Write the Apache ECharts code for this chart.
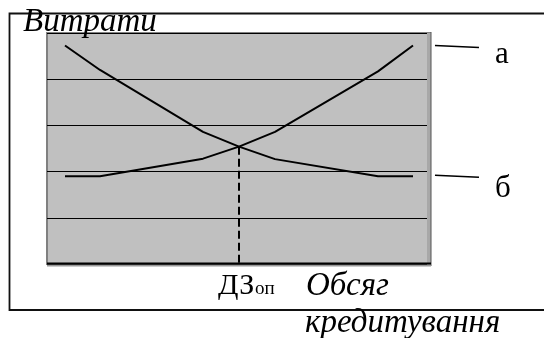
<!DOCTYPE html>
<html>
<head>
<meta charset="utf-8">
<script src="https://cdn.jsdelivr.net/npm/echarts@6/dist/echarts.min.js"></script>
<style>
html,body{margin:0;padding:0;background:#fff;}
#chart{width:544px;height:338px;}
</style>
</head>
<body>
<div id="chart"></div>
<script>
// ---- data ----
const volumeX = [1.8, 5.3, 15.6, 19.2, 22.8, 33.1, 36.6];
const costA = [1.9, 1.9, 2.28, 2.54, 2.86, 4.17, 4.73];
const costB = [4.73, 4.2, 2.86, 2.54, 2.27, 1.9, 1.9];
const optimumX = 19.2;
const optimumY = 2.54;
const seriesNames = ['а', 'б'];
const yTitle = 'Витрати';
const xTitle = ['Обсяг', 'кредитування'];
const optLabel = ['ДЗ', 'оп'];
const yTicks = [0, 1, 2, 3, 4, 5];
const xRange = [0, 38.3];

// ---- layout ----
const G = {left: 47, top: 33, right: 114, bottom: 74};
const W = 544, H = 338;
const gx0 = G.left, gx1 = W - G.right, gy0 = G.top, gy1 = H - G.bottom;
const serif = '"Liberation Serif", "DejaVu Serif", serif';

const chart = echarts.init(document.getElementById('chart'), null, {renderer: 'canvas'});

function pairs(xs, ys) { return xs.map((x, i) => [x, ys[i]]); }

const option = {
  animation: false,
  backgroundColor: '#ffffff',
  grid: {
    left: G.left, right: G.right, top: G.top, bottom: G.bottom,
    show: true, backgroundColor: '#c0c0c0', borderColor: '#808080', borderWidth: 2
  },
  xAxis: {
    type: 'value', min: xRange[0], max: xRange[1],
    axisLine: {show: false}, axisTick: {show: false}, axisLabel: {show: false},
    splitLine: {show: false}
  },
  yAxis: {
    type: 'value', min: yTicks[0], max: yTicks[yTicks.length - 1], interval: 1,
    axisLine: {show: false}, axisTick: {show: false}, axisLabel: {show: false},
    splitLine: {show: true, lineStyle: {color: '#000', width: 1}}
  },
  series: [
    {
      name: seriesNames[0], type: 'line', data: pairs(volumeX, costA),
      showSymbol: false, symbol: 'none', smooth: false,
      lineStyle: {color: '#000', width: 2}, z: 5
    },
    {
      name: seriesNames[1], type: 'line', data: pairs(volumeX, costB),
      showSymbol: false, symbol: 'none', smooth: false,
      lineStyle: {color: '#000', width: 2}, z: 5
    },
    {
      name: 'opt', type: 'line', data: [[optimumX, optimumY], [optimumX, yTicks[0]]],
      showSymbol: false, symbol: 'none',
      lineStyle: {color: '#000', width: 2, type: [8, 4]}, z: 4
    }
  ]
};
chart.setOption(option);

// leader lines from the ends of the curves
const endA = chart.convertToPixel({gridIndex: 0}, [volumeX[volumeX.length - 1], costA[costA.length - 1]]);
const endB = chart.convertToPixel({gridIndex: 0}, [volumeX[volumeX.length - 1], costB[costB.length - 1]]);

const textStyle = (txt, x, y, size, italic) => ({
  type: 'text', z: 20,
  style: {
    text: txt, x: x, y: y, fill: '#000',
    font: (italic ? 'italic ' : '') + size + 'px ' + serif,
    textAlign: 'left', textVerticalAlign: 'middle', verticalAlign: 'middle'
  }
});

chart.setOption({
  graphic: [
    // outer frame
    {type: 'rect', z: 1, shape: {x: 9.5, y: 13.5, width: 600, height: 296.5},
     style: {fill: 'none', stroke: '#111', lineWidth: 1.8}},
    // plot shadow on right and bottom
    {type: 'rect', z: 2, shape: {x: gx1 - 3, y: gy0, width: 4, height: gy1 - gy0 + 2},
     style: {fill: '#a8a8a8'}},
    {type: 'line', z: 2, shape: {x1: gx1 + 1, y1: gy0 - 1, x2: gx1 + 1, y2: gy1 + 2},
     style: {stroke: '#555', lineWidth: 1}},
    {type: 'line', z: 3, shape: {x1: gx0, y1: gy1 - 0.5, x2: gx1 + 1, y2: gy1 - 0.5},
     style: {stroke: '#000', lineWidth: 2}},
    {type: 'line', z: 2, shape: {x1: gx0, y1: gy1 + 1.5, x2: gx1 + 1, y2: gy1 + 1.5},
     style: {stroke: '#999', lineWidth: 2}},
    // leader lines
    {type: 'line', z: 10, shape: {x1: gx1 + 5, y1: endA[1], x2: gx1 + 49, y2: endA[1] + 2},
     style: {stroke: '#000', lineWidth: 1.5}},
    {type: 'line', z: 10, shape: {x1: gx1 + 5, y1: endB[1] - 1, x2: gx1 + 49, y2: endB[1] + 1},
     style: {stroke: '#000', lineWidth: 1.5}},
    // texts
    textStyle(yTitle, 23, 22, 33, true),
    textStyle(seriesNames[0], 495, 55, 31, false),
    textStyle(seriesNames[1], 495, 188.5, 31, false),
    textStyle(optLabel[0], 218, 286, 30, false),
    textStyle(optLabel[1], 255, 289.5, 19, false),
    textStyle(xTitle[0], 306, 286.5, 33, true),
    textStyle(xTitle[1], 305, 323, 33, true)
  ]
});
</script>
</body>
</html>
